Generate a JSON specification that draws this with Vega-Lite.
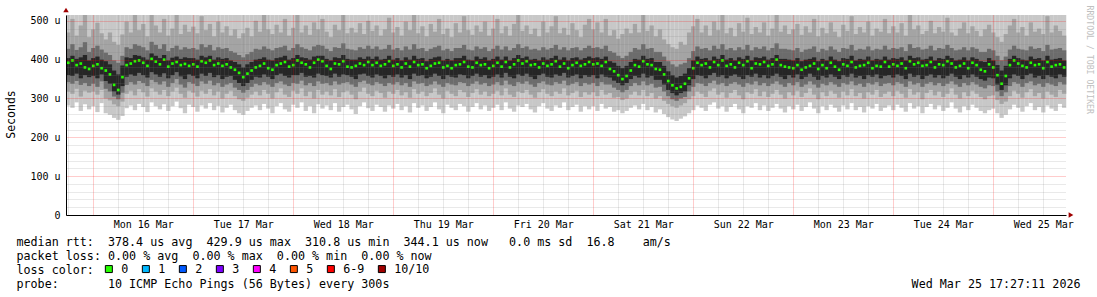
{
  "$schema": "https://vega.github.io/schema/vega-lite/v6.json",
  "width": 1000,
  "height": 200,
  "autosize": {"type": "none"},
  "padding": {"left": 66, "top": 15, "right": 31, "bottom": 82},
  "background": "white",
  "config": {
    "view": {"stroke": null},
    "font": "DejaVu Sans Mono",
    "axis": {"labelFont": "DejaVu Sans Mono", "labelFontSize": 10, "labelColor": "#000000", "titleFont": "DejaVu Sans Mono", "titleFontWeight": "normal", "titleColor": "#000000", "domainColor": "#000000", "tickColor": "#000000"}
  },
  "data": {"values": [
    {"t":"2026-03-15T18:00Z","a":282,"b":318,"c":470,"d":342,"e":428,"f":360,"g":404,"m":392},
    {"t":"2026-03-15T19:00Z","a":276,"b":312,"c":505,"d":338,"e":440,"f":358,"g":410,"m":398},
    {"t":"2026-03-15T20:00Z","a":290,"b":325,"c":462,"d":345,"e":425,"f":364,"g":402,"m":386},
    {"t":"2026-03-15T21:00Z","a":268,"b":305,"c":488,"d":335,"e":432,"f":352,"g":406,"m":390},
    {"t":"2026-03-15T22:00Z","a":285,"b":320,"c":515,"d":340,"e":445,"f":360,"g":412,"m":380},
    {"t":"2026-03-15T23:00Z","a":272,"b":315,"c":458,"d":332,"e":420,"f":355,"g":398,"m":376},
    {"t":"2026-03-16T00:00Z","a":280,"b":318,"c":478,"d":338,"e":430,"f":358,"g":404,"m":384},
    {"t":"2026-03-16T01:00Z","a":265,"b":310,"c":495,"d":330,"e":436,"f":352,"g":408,"m":388},
    {"t":"2026-03-16T02:00Z","a":288,"b":322,"c":468,"d":344,"e":426,"f":362,"g":400,"m":378},
    {"t":"2026-03-16T03:00Z","a":262,"b":300,"c":452,"d":325,"e":418,"f":345,"g":396,"m":372},
    {"t":"2026-03-16T04:00Z","a":258,"b":295,"c":470,"d":318,"e":412,"f":338,"g":388,"m":362},
    {"t":"2026-03-16T05:00Z","a":250,"b":285,"c":446,"d":305,"e":398,"f":318,"g":372,"m":335},
    {"t":"2026-03-16T06:00Z","a":245,"b":280,"c":438,"d":298,"e":392,"f":310,"g":362,"m":322},
    {"t":"2026-03-16T07:00Z","a":255,"b":292,"c":465,"d":315,"e":410,"f":332,"g":385,"m":355},
    {"t":"2026-03-16T08:00Z","a":275,"b":312,"c":498,"d":335,"e":432,"f":356,"g":406,"m":386},
    {"t":"2026-03-16T09:00Z","a":282,"b":320,"c":470,"d":342,"e":428,"f":362,"g":404,"m":390},
    {"t":"2026-03-16T10:00Z","a":270,"b":308,"c":515,"d":336,"e":440,"f":358,"g":412,"m":396},
    {"t":"2026-03-16T11:00Z","a":286,"b":324,"c":476,"d":345,"e":436,"f":366,"g":410,"m":398},
    {"t":"2026-03-16T12:00Z","a":278,"b":316,"c":492,"d":340,"e":432,"f":360,"g":406,"m":392},
    {"t":"2026-03-16T13:00Z","a":265,"b":305,"c":460,"d":332,"e":424,"f":354,"g":400,"m":384},
    {"t":"2026-03-16T14:00Z","a":290,"b":326,"c":515,"d":348,"e":446,"f":368,"g":416,"m":402},
    {"t":"2026-03-16T15:00Z","a":280,"b":318,"c":488,"d":342,"e":438,"f":362,"g":410,"m":395},
    {"t":"2026-03-16T16:00Z","a":272,"b":310,"c":470,"d":336,"e":428,"f":356,"g":404,"m":388},
    {"t":"2026-03-16T17:00Z","a":285,"b":322,"c":505,"d":344,"e":440,"f":365,"g":412,"m":400},
    {"t":"2026-03-16T18:00Z","a":268,"b":306,"c":462,"d":330,"e":422,"f":352,"g":398,"m":382},
    {"t":"2026-03-16T19:00Z","a":280,"b":318,"c":480,"d":340,"e":430,"f":360,"g":405,"m":390},
    {"t":"2026-03-16T20:00Z","a":292,"b":328,"c":515,"d":350,"e":436,"f":368,"g":408,"m":394},
    {"t":"2026-03-16T21:00Z","a":275,"b":312,"c":466,"d":336,"e":426,"f":357,"g":402,"m":386},
    {"t":"2026-03-16T22:00Z","a":262,"b":302,"c":490,"d":328,"e":432,"f":350,"g":406,"m":389},
    {"t":"2026-03-16T23:00Z","a":284,"b":320,"c":472,"d":342,"e":428,"f":362,"g":404,"m":384},
    {"t":"2026-03-17T00:00Z","a":278,"b":315,"c":485,"d":338,"e":430,"f":358,"g":404,"m":388},
    {"t":"2026-03-17T01:00Z","a":266,"b":305,"c":468,"d":332,"e":426,"f":352,"g":400,"m":382},
    {"t":"2026-03-17T02:00Z","a":282,"b":320,"c":512,"d":344,"e":440,"f":364,"g":410,"m":396},
    {"t":"2026-03-17T03:00Z","a":274,"b":312,"c":476,"d":338,"e":432,"f":358,"g":406,"m":392},
    {"t":"2026-03-17T04:00Z","a":288,"b":324,"c":492,"d":346,"e":438,"f":366,"g":410,"m":398},
    {"t":"2026-03-17T05:00Z","a":270,"b":308,"c":460,"d":334,"e":424,"f":355,"g":400,"m":386},
    {"t":"2026-03-17T06:00Z","a":281,"b":318,"c":498,"d":340,"e":432,"f":360,"g":406,"m":390},
    {"t":"2026-03-17T07:00Z","a":264,"b":300,"c":470,"d":330,"e":428,"f":350,"g":402,"m":384},
    {"t":"2026-03-17T08:00Z","a":276,"b":312,"c":486,"d":336,"e":430,"f":356,"g":404,"m":388},
    {"t":"2026-03-17T09:00Z","a":284,"b":320,"c":462,"d":340,"e":422,"f":358,"g":398,"m":380},
    {"t":"2026-03-17T10:00Z","a":270,"b":306,"c":478,"d":328,"e":418,"f":348,"g":394,"m":374},
    {"t":"2026-03-17T11:00Z","a":262,"b":298,"c":455,"d":322,"e":412,"f":340,"g":388,"m":366},
    {"t":"2026-03-17T12:00Z","a":258,"b":294,"c":468,"d":315,"e":406,"f":332,"g":380,"m":355},
    {"t":"2026-03-17T13:00Z","a":268,"b":302,"c":482,"d":322,"e":414,"f":340,"g":388,"m":364},
    {"t":"2026-03-17T14:00Z","a":276,"b":310,"c":460,"d":330,"e":420,"f":348,"g":394,"m":372},
    {"t":"2026-03-17T15:00Z","a":282,"b":318,"c":500,"d":338,"e":428,"f":356,"g":400,"m":380},
    {"t":"2026-03-17T16:00Z","a":270,"b":308,"c":472,"d":334,"e":426,"f":354,"g":402,"m":384},
    {"t":"2026-03-17T17:00Z","a":286,"b":322,"c":515,"d":342,"e":434,"f":362,"g":406,"m":390},
    {"t":"2026-03-17T18:00Z","a":274,"b":312,"c":478,"d":336,"e":428,"f":356,"g":400,"m":378},
    {"t":"2026-03-17T19:00Z","a":262,"b":300,"c":466,"d":330,"e":424,"f":350,"g":398,"m":374},
    {"t":"2026-03-17T20:00Z","a":280,"b":316,"c":490,"d":340,"e":430,"f":360,"g":404,"m":386},
    {"t":"2026-03-17T21:00Z","a":288,"b":326,"c":470,"d":344,"e":432,"f":364,"g":406,"m":390},
    {"t":"2026-03-17T22:00Z","a":272,"b":310,"c":505,"d":336,"e":436,"f":358,"g":410,"m":394},
    {"t":"2026-03-17T23:00Z","a":266,"b":304,"c":462,"d":332,"e":424,"f":354,"g":400,"m":382},
    {"t":"2026-03-18T00:00Z","a":284,"b":320,"c":482,"d":340,"e":430,"f":360,"g":404,"m":386},
    {"t":"2026-03-18T01:00Z","a":276,"b":312,"c":515,"d":338,"e":440,"f":360,"g":412,"m":398},
    {"t":"2026-03-18T02:00Z","a":290,"b":326,"c":470,"d":346,"e":432,"f":366,"g":406,"m":392},
    {"t":"2026-03-18T03:00Z","a":268,"b":306,"c":488,"d":334,"e":428,"f":356,"g":404,"m":388},
    {"t":"2026-03-18T04:00Z","a":280,"b":318,"c":464,"d":340,"e":424,"f":358,"g":400,"m":380},
    {"t":"2026-03-18T05:00Z","a":262,"b":300,"c":496,"d":332,"e":434,"f":354,"g":408,"m":392},
    {"t":"2026-03-18T06:00Z","a":285,"b":322,"c":478,"d":344,"e":438,"f":364,"g":410,"m":400},
    {"t":"2026-03-18T07:00Z","a":274,"b":310,"c":505,"d":338,"e":436,"f":360,"g":410,"m":396},
    {"t":"2026-03-18T08:00Z","a":282,"b":318,"c":472,"d":340,"e":428,"f":358,"g":402,"m":384},
    {"t":"2026-03-18T09:00Z","a":270,"b":308,"c":458,"d":334,"e":422,"f":354,"g":398,"m":376},
    {"t":"2026-03-18T10:00Z","a":288,"b":324,"c":490,"d":344,"e":432,"f":364,"g":406,"m":390},
    {"t":"2026-03-18T11:00Z","a":266,"b":304,"c":476,"d":336,"e":430,"f":356,"g":404,"m":388},
    {"t":"2026-03-18T12:00Z","a":278,"b":316,"c":515,"d":340,"e":442,"f":362,"g":412,"m":396},
    {"t":"2026-03-18T13:00Z","a":284,"b":320,"c":468,"d":342,"e":428,"f":360,"g":402,"m":382},
    {"t":"2026-03-18T14:00Z","a":272,"b":310,"c":482,"d":336,"e":426,"f":356,"g":400,"m":380},
    {"t":"2026-03-18T15:00Z","a":260,"b":298,"c":470,"d":330,"e":424,"f":350,"g":400,"m":384},
    {"t":"2026-03-18T16:00Z","a":280,"b":318,"c":494,"d":342,"e":432,"f":362,"g":406,"m":390},
    {"t":"2026-03-18T17:00Z","a":290,"b":328,"c":466,"d":346,"e":428,"f":364,"g":402,"m":386},
    {"t":"2026-03-18T18:00Z","a":275,"b":312,"c":500,"d":338,"e":436,"f":358,"g":408,"m":394},
    {"t":"2026-03-18T19:00Z","a":268,"b":306,"c":474,"d":334,"e":428,"f":354,"g":402,"m":386},
    {"t":"2026-03-18T20:00Z","a":284,"b":320,"c":488,"d":342,"e":434,"f":362,"g":408,"m":392},
    {"t":"2026-03-18T21:00Z","a":278,"b":314,"c":462,"d":338,"e":426,"f":358,"g":400,"m":384},
    {"t":"2026-03-18T22:00Z","a":266,"b":302,"c":478,"d":332,"e":428,"f":352,"g":402,"m":388},
    {"t":"2026-03-18T23:00Z","a":282,"b":318,"c":508,"d":340,"e":438,"f":360,"g":410,"m":396},
    {"t":"2026-03-19T00:00Z","a":274,"b":312,"c":470,"d":336,"e":426,"f":356,"g":400,"m":384},
    {"t":"2026-03-19T01:00Z","a":286,"b":322,"c":484,"d":342,"e":430,"f":362,"g":404,"m":388},
    {"t":"2026-03-19T02:00Z","a":270,"b":308,"c":462,"d":334,"e":424,"f":354,"g":398,"m":380},
    {"t":"2026-03-19T03:00Z","a":280,"b":316,"c":498,"d":340,"e":434,"f":360,"g":406,"m":390},
    {"t":"2026-03-19T04:00Z","a":264,"b":302,"c":476,"d":330,"e":426,"f":350,"g":400,"m":382},
    {"t":"2026-03-19T05:00Z","a":288,"b":324,"c":515,"d":344,"e":440,"f":364,"g":410,"m":394},
    {"t":"2026-03-19T06:00Z","a":276,"b":312,"c":468,"d":338,"e":428,"f":358,"g":402,"m":386},
    {"t":"2026-03-19T07:00Z","a":282,"b":318,"c":486,"d":340,"e":430,"f":360,"g":404,"m":388},
    {"t":"2026-03-19T08:00Z","a":268,"b":306,"c":460,"d":332,"e":422,"f":352,"g":396,"m":378},
    {"t":"2026-03-19T09:00Z","a":278,"b":314,"c":492,"d":336,"e":428,"f":356,"g":402,"m":384},
    {"t":"2026-03-19T10:00Z","a":290,"b":326,"c":472,"d":344,"e":432,"f":364,"g":406,"m":390},
    {"t":"2026-03-19T11:00Z","a":272,"b":310,"c":505,"d":336,"e":436,"f":358,"g":408,"m":392},
    {"t":"2026-03-19T12:00Z","a":262,"b":300,"c":466,"d":330,"e":424,"f":350,"g":398,"m":380},
    {"t":"2026-03-19T13:00Z","a":284,"b":320,"c":480,"d":340,"e":428,"f":360,"g":402,"m":384},
    {"t":"2026-03-19T14:00Z","a":276,"b":312,"c":458,"d":336,"e":422,"f":356,"g":398,"m":378},
    {"t":"2026-03-19T15:00Z","a":270,"b":306,"c":494,"d":334,"e":430,"f":354,"g":404,"m":386},
    {"t":"2026-03-19T16:00Z","a":286,"b":322,"c":470,"d":342,"e":430,"f":362,"g":404,"m":388},
    {"t":"2026-03-19T17:00Z","a":280,"b":316,"c":512,"d":340,"e":438,"f":360,"g":410,"m":394},
    {"t":"2026-03-19T18:00Z","a":266,"b":304,"c":476,"d":332,"e":426,"f":352,"g":400,"m":382},
    {"t":"2026-03-19T19:00Z","a":278,"b":314,"c":464,"d":338,"e":424,"f":358,"g":398,"m":380},
    {"t":"2026-03-19T20:00Z","a":288,"b":324,"c":488,"d":344,"e":434,"f":364,"g":408,"m":392},
    {"t":"2026-03-19T21:00Z","a":272,"b":310,"c":472,"d":336,"e":428,"f":356,"g":402,"m":386},
    {"t":"2026-03-19T22:00Z","a":282,"b":318,"c":498,"d":340,"e":432,"f":360,"g":406,"m":388},
    {"t":"2026-03-19T23:00Z","a":268,"b":306,"c":462,"d":332,"e":422,"f":352,"g":398,"m":378},
    {"t":"2026-03-20T00:00Z","a":276,"b":312,"c":480,"d":336,"e":428,"f":356,"g":402,"m":384},
    {"t":"2026-03-20T01:00Z","a":284,"b":320,"c":505,"d":342,"e":436,"f":362,"g":408,"m":392},
    {"t":"2026-03-20T02:00Z","a":270,"b":308,"c":468,"d":334,"e":426,"f":354,"g":400,"m":382},
    {"t":"2026-03-20T03:00Z","a":290,"b":326,"c":486,"d":346,"e":434,"f":366,"g":408,"m":394},
    {"t":"2026-03-20T04:00Z","a":274,"b":310,"c":462,"d":336,"e":424,"f":356,"g":398,"m":380},
    {"t":"2026-03-20T05:00Z","a":266,"b":304,"c":492,"d":332,"e":430,"f":352,"g":404,"m":388},
    {"t":"2026-03-20T06:00Z","a":282,"b":318,"c":515,"d":342,"e":440,"f":362,"g":412,"m":398},
    {"t":"2026-03-20T07:00Z","a":278,"b":314,"c":474,"d":338,"e":430,"f":358,"g":404,"m":390},
    {"t":"2026-03-20T08:00Z","a":286,"b":322,"c":488,"d":344,"e":434,"f":364,"g":408,"m":396},
    {"t":"2026-03-20T09:00Z","a":272,"b":310,"c":466,"d":336,"e":426,"f":356,"g":400,"m":386},
    {"t":"2026-03-20T10:00Z","a":264,"b":302,"c":480,"d":330,"e":428,"f":350,"g":402,"m":388},
    {"t":"2026-03-20T11:00Z","a":280,"b":316,"c":460,"d":340,"e":424,"f":360,"g":398,"m":380},
    {"t":"2026-03-20T12:00Z","a":288,"b":324,"c":498,"d":344,"e":432,"f":364,"g":406,"m":390},
    {"t":"2026-03-20T13:00Z","a":274,"b":312,"c":470,"d":336,"e":426,"f":356,"g":400,"m":384},
    {"t":"2026-03-20T14:00Z","a":268,"b":306,"c":486,"d":334,"e":430,"f":354,"g":404,"m":388},
    {"t":"2026-03-20T15:00Z","a":282,"b":318,"c":512,"d":342,"e":438,"f":362,"g":410,"m":396},
    {"t":"2026-03-20T16:00Z","a":276,"b":312,"c":468,"d":338,"e":426,"f":358,"g":400,"m":382},
    {"t":"2026-03-20T17:00Z","a":290,"b":326,"c":482,"d":346,"e":432,"f":366,"g":406,"m":390},
    {"t":"2026-03-20T18:00Z","a":270,"b":308,"c":464,"d":334,"e":424,"f":354,"g":398,"m":378},
    {"t":"2026-03-20T19:00Z","a":278,"b":314,"c":494,"d":338,"e":430,"f":358,"g":404,"m":386},
    {"t":"2026-03-20T20:00Z","a":284,"b":320,"c":476,"d":342,"e":432,"f":362,"g":406,"m":392},
    {"t":"2026-03-20T21:00Z","a":266,"b":304,"c":458,"d":332,"e":424,"f":352,"g":400,"m":384},
    {"t":"2026-03-20T22:00Z","a":280,"b":316,"c":490,"d":340,"e":430,"f":360,"g":404,"m":388},
    {"t":"2026-03-20T23:00Z","a":272,"b":310,"c":505,"d":336,"e":436,"f":356,"g":408,"m":394},
    {"t":"2026-03-21T00:00Z","a":280,"b":316,"c":478,"d":340,"e":430,"f":360,"g":404,"m":388},
    {"t":"2026-03-21T01:00Z","a":268,"b":306,"c":496,"d":332,"e":432,"f":352,"g":406,"m":390},
    {"t":"2026-03-21T02:00Z","a":286,"b":322,"c":470,"d":342,"e":428,"f":362,"g":402,"m":384},
    {"t":"2026-03-21T03:00Z","a":274,"b":310,"c":505,"d":336,"e":436,"f":356,"g":408,"m":394},
    {"t":"2026-03-21T04:00Z","a":278,"b":314,"c":462,"d":336,"e":422,"f":354,"g":396,"m":376},
    {"t":"2026-03-21T05:00Z","a":266,"b":302,"c":476,"d":328,"e":418,"f":346,"g":392,"m":370},
    {"t":"2026-03-21T06:00Z","a":270,"b":304,"c":454,"d":322,"e":410,"f":340,"g":384,"m":360},
    {"t":"2026-03-21T07:00Z","a":262,"b":296,"c":466,"d":316,"e":404,"f":334,"g":378,"m":350},
    {"t":"2026-03-21T08:00Z","a":268,"b":300,"c":480,"d":322,"e":410,"f":340,"g":384,"m":358},
    {"t":"2026-03-21T09:00Z","a":276,"b":310,"c":468,"d":332,"e":420,"f":350,"g":394,"m":372},
    {"t":"2026-03-21T10:00Z","a":282,"b":318,"c":492,"d":340,"e":430,"f":358,"g":402,"m":386},
    {"t":"2026-03-21T11:00Z","a":272,"b":308,"c":470,"d":334,"e":426,"f":354,"g":400,"m":382},
    {"t":"2026-03-21T12:00Z","a":286,"b":322,"c":515,"d":344,"e":440,"f":364,"g":410,"m":396},
    {"t":"2026-03-21T13:00Z","a":270,"b":306,"c":474,"d":334,"e":428,"f":354,"g":402,"m":388},
    {"t":"2026-03-21T14:00Z","a":278,"b":314,"c":488,"d":338,"e":430,"f":358,"g":404,"m":386},
    {"t":"2026-03-21T15:00Z","a":264,"b":300,"c":460,"d":328,"e":420,"f":348,"g":394,"m":376},
    {"t":"2026-03-21T16:00Z","a":272,"b":306,"c":478,"d":330,"e":420,"f":348,"g":394,"m":374},
    {"t":"2026-03-21T17:00Z","a":260,"b":294,"c":452,"d":318,"e":408,"f":336,"g":384,"m":362},
    {"t":"2026-03-21T18:00Z","a":252,"b":286,"c":440,"d":306,"e":396,"f":322,"g":370,"m":345},
    {"t":"2026-03-21T19:00Z","a":246,"b":280,"c":432,"d":298,"e":388,"f":314,"g":360,"m":334},
    {"t":"2026-03-21T20:00Z","a":242,"b":276,"c":428,"d":294,"e":382,"f":308,"g":354,"m":326},
    {"t":"2026-03-21T21:00Z","a":248,"b":282,"c":446,"d":300,"e":388,"f":314,"g":358,"m":330},
    {"t":"2026-03-21T22:00Z","a":254,"b":288,"c":438,"d":304,"e":392,"f":318,"g":364,"m":338},
    {"t":"2026-03-21T23:00Z","a":262,"b":298,"c":470,"d":318,"e":404,"f":334,"g":378,"m":352},
    {"t":"2026-03-22T00:00Z","a":270,"b":306,"c":486,"d":330,"e":422,"f":350,"g":398,"m":378},
    {"t":"2026-03-22T01:00Z","a":282,"b":318,"c":505,"d":340,"e":434,"f":360,"g":408,"m":392},
    {"t":"2026-03-22T02:00Z","a":276,"b":312,"c":470,"d":338,"e":428,"f":358,"g":402,"m":386},
    {"t":"2026-03-22T03:00Z","a":268,"b":304,"c":488,"d":332,"e":430,"f":352,"g":404,"m":390},
    {"t":"2026-03-22T04:00Z","a":284,"b":320,"c":462,"d":340,"e":424,"f":360,"g":398,"m":380},
    {"t":"2026-03-22T05:00Z","a":290,"b":326,"c":498,"d":346,"e":436,"f":366,"g":408,"m":394},
    {"t":"2026-03-22T06:00Z","a":274,"b":310,"c":476,"d":336,"e":428,"f":356,"g":402,"m":386},
    {"t":"2026-03-22T07:00Z","a":280,"b":316,"c":515,"d":340,"e":440,"f":360,"g":412,"m":398},
    {"t":"2026-03-22T08:00Z","a":266,"b":302,"c":468,"d":332,"e":426,"f":352,"g":400,"m":384},
    {"t":"2026-03-22T09:00Z","a":278,"b":314,"c":482,"d":338,"e":430,"f":358,"g":404,"m":388},
    {"t":"2026-03-22T10:00Z","a":286,"b":322,"c":460,"d":342,"e":424,"f":362,"g":398,"m":380},
    {"t":"2026-03-22T11:00Z","a":272,"b":308,"c":494,"d":336,"e":432,"f":356,"g":406,"m":392},
    {"t":"2026-03-22T12:00Z","a":262,"b":298,"c":472,"d":330,"e":426,"f":350,"g":402,"m":386},
    {"t":"2026-03-22T13:00Z","a":280,"b":316,"c":508,"d":340,"e":438,"f":360,"g":410,"m":396},
    {"t":"2026-03-22T14:00Z","a":276,"b":312,"c":466,"d":336,"e":424,"f":356,"g":398,"m":378},
    {"t":"2026-03-22T15:00Z","a":288,"b":324,"c":484,"d":344,"e":432,"f":364,"g":406,"m":390},
    {"t":"2026-03-22T16:00Z","a":270,"b":306,"c":470,"d":334,"e":428,"f":354,"g":404,"m":388},
    {"t":"2026-03-22T17:00Z","a":282,"b":318,"c":496,"d":340,"e":434,"f":360,"g":408,"m":394},
    {"t":"2026-03-22T18:00Z","a":268,"b":304,"c":462,"d":332,"e":424,"f":352,"g":400,"m":384},
    {"t":"2026-03-22T19:00Z","a":276,"b":312,"c":480,"d":338,"e":430,"f":358,"g":404,"m":388},
    {"t":"2026-03-22T20:00Z","a":286,"b":322,"c":515,"d":344,"e":442,"f":364,"g":412,"m":400},
    {"t":"2026-03-22T21:00Z","a":274,"b":310,"c":472,"d":336,"e":428,"f":356,"g":402,"m":386},
    {"t":"2026-03-22T22:00Z","a":264,"b":300,"c":488,"d":330,"e":428,"f":350,"g":402,"m":382},
    {"t":"2026-03-22T23:00Z","a":280,"b":316,"c":466,"d":340,"e":426,"f":360,"g":400,"m":380},
    {"t":"2026-03-23T00:00Z","a":272,"b":308,"c":478,"d":334,"e":424,"f":354,"g":398,"m":378},
    {"t":"2026-03-23T01:00Z","a":284,"b":320,"c":492,"d":342,"e":430,"f":362,"g":404,"m":386},
    {"t":"2026-03-23T02:00Z","a":268,"b":304,"c":464,"d":330,"e":420,"f":350,"g":396,"m":374},
    {"t":"2026-03-23T03:00Z","a":278,"b":314,"c":486,"d":336,"e":426,"f":356,"g":400,"m":380},
    {"t":"2026-03-23T04:00Z","a":290,"b":326,"c":470,"d":344,"e":428,"f":364,"g":402,"m":384},
    {"t":"2026-03-23T05:00Z","a":274,"b":310,"c":505,"d":336,"e":434,"f":356,"g":406,"m":390},
    {"t":"2026-03-23T06:00Z","a":262,"b":298,"c":460,"d":328,"e":420,"f":348,"g":396,"m":376},
    {"t":"2026-03-23T07:00Z","a":280,"b":316,"c":482,"d":338,"e":428,"f":358,"g":402,"m":386},
    {"t":"2026-03-23T08:00Z","a":270,"b":306,"c":468,"d":334,"e":424,"f":354,"g":398,"m":378},
    {"t":"2026-03-23T09:00Z","a":284,"b":320,"c":496,"d":342,"e":434,"f":362,"g":408,"m":392},
    {"t":"2026-03-23T10:00Z","a":276,"b":312,"c":472,"d":336,"e":426,"f":356,"g":400,"m":382},
    {"t":"2026-03-23T11:00Z","a":266,"b":302,"c":458,"d":330,"e":420,"f":350,"g":396,"m":374},
    {"t":"2026-03-23T12:00Z","a":282,"b":318,"c":490,"d":340,"e":430,"f":360,"g":404,"m":388},
    {"t":"2026-03-23T13:00Z","a":272,"b":308,"c":474,"d":336,"e":428,"f":356,"g":402,"m":384},
    {"t":"2026-03-23T14:00Z","a":288,"b":324,"c":512,"d":344,"e":438,"f":364,"g":410,"m":394},
    {"t":"2026-03-23T15:00Z","a":270,"b":306,"c":466,"d":334,"e":424,"f":354,"g":398,"m":380},
    {"t":"2026-03-23T16:00Z","a":278,"b":314,"c":484,"d":338,"e":428,"f":358,"g":402,"m":384},
    {"t":"2026-03-23T17:00Z","a":264,"b":300,"c":470,"d":330,"e":426,"f":350,"g":400,"m":386},
    {"t":"2026-03-23T18:00Z","a":280,"b":316,"c":498,"d":340,"e":434,"f":360,"g":408,"m":392},
    {"t":"2026-03-23T19:00Z","a":274,"b":310,"c":462,"d":336,"e":424,"f":356,"g":398,"m":378},
    {"t":"2026-03-23T20:00Z","a":286,"b":322,"c":480,"d":342,"e":428,"f":362,"g":402,"m":384},
    {"t":"2026-03-23T21:00Z","a":268,"b":304,"c":472,"d":332,"e":426,"f":352,"g":400,"m":382},
    {"t":"2026-03-23T22:00Z","a":276,"b":312,"c":505,"d":338,"e":436,"f":358,"g":408,"m":394},
    {"t":"2026-03-23T23:00Z","a":282,"b":318,"c":468,"d":340,"e":426,"f":360,"g":400,"m":382},
    {"t":"2026-03-24T00:00Z","a":270,"b":306,"c":486,"d":334,"e":430,"f":354,"g":404,"m":388},
    {"t":"2026-03-24T01:00Z","a":284,"b":320,"c":470,"d":342,"e":428,"f":362,"g":402,"m":384},
    {"t":"2026-03-24T02:00Z","a":276,"b":312,"c":494,"d":338,"e":432,"f":358,"g":406,"m":390},
    {"t":"2026-03-24T03:00Z","a":266,"b":302,"c":462,"d":330,"e":422,"f":350,"g":398,"m":378},
    {"t":"2026-03-24T04:00Z","a":288,"b":324,"c":515,"d":344,"e":440,"f":364,"g":410,"m":396},
    {"t":"2026-03-24T05:00Z","a":274,"b":310,"c":478,"d":336,"e":430,"f":356,"g":404,"m":388},
    {"t":"2026-03-24T06:00Z","a":280,"b":316,"c":488,"d":340,"e":432,"f":360,"g":406,"m":392},
    {"t":"2026-03-24T07:00Z","a":262,"b":298,"c":466,"d":330,"e":426,"f":350,"g":400,"m":384},
    {"t":"2026-03-24T08:00Z","a":278,"b":314,"c":474,"d":338,"e":428,"f":358,"g":402,"m":386},
    {"t":"2026-03-24T09:00Z","a":286,"b":322,"c":500,"d":342,"e":436,"f":362,"g":408,"m":394},
    {"t":"2026-03-24T10:00Z","a":272,"b":308,"c":468,"d":334,"e":424,"f":354,"g":398,"m":380},
    {"t":"2026-03-24T11:00Z","a":282,"b":318,"c":484,"d":340,"e":430,"f":360,"g":404,"m":388},
    {"t":"2026-03-24T12:00Z","a":268,"b":304,"c":472,"d":332,"e":428,"f":352,"g":402,"m":386},
    {"t":"2026-03-24T13:00Z","a":276,"b":312,"c":508,"d":338,"e":438,"f":358,"g":410,"m":396},
    {"t":"2026-03-24T14:00Z","a":290,"b":326,"c":470,"d":344,"e":430,"f":364,"g":404,"m":390},
    {"t":"2026-03-24T15:00Z","a":274,"b":310,"c":462,"d":336,"e":424,"f":356,"g":398,"m":380},
    {"t":"2026-03-24T16:00Z","a":264,"b":300,"c":480,"d":330,"e":426,"f":350,"g":400,"m":384},
    {"t":"2026-03-24T17:00Z","a":280,"b":316,"c":496,"d":340,"e":432,"f":360,"g":406,"m":390},
    {"t":"2026-03-24T18:00Z","a":270,"b":306,"c":468,"d":334,"e":424,"f":354,"g":398,"m":378},
    {"t":"2026-03-24T19:00Z","a":284,"b":320,"c":486,"d":342,"e":432,"f":362,"g":406,"m":392},
    {"t":"2026-03-24T20:00Z","a":276,"b":312,"c":474,"d":336,"e":428,"f":356,"g":402,"m":386},
    {"t":"2026-03-24T21:00Z","a":268,"b":304,"c":460,"d":330,"e":420,"f":350,"g":396,"m":374},
    {"t":"2026-03-24T22:00Z","a":262,"b":298,"c":478,"d":326,"e":420,"f":346,"g":394,"m":370},
    {"t":"2026-03-24T23:00Z","a":270,"b":306,"c":490,"d":334,"e":428,"f":354,"g":404,"m":388},
    {"t":"2026-03-25T00:00Z","a":274,"b":308,"c":470,"d":332,"e":424,"f":352,"g":398,"m":380},
    {"t":"2026-03-25T01:00Z","a":262,"b":296,"c":458,"d":318,"e":410,"f":336,"g":386,"m":360},
    {"t":"2026-03-25T02:00Z","a":250,"b":286,"c":446,"d":306,"e":398,"f":322,"g":372,"m":338},
    {"t":"2026-03-25T03:00Z","a":258,"b":292,"c":466,"d":316,"e":408,"f":334,"g":384,"m":358},
    {"t":"2026-03-25T04:00Z","a":272,"b":306,"c":488,"d":332,"e":426,"f":352,"g":402,"m":386},
    {"t":"2026-03-25T05:00Z","a":284,"b":320,"c":505,"d":342,"e":436,"f":362,"g":410,"m":398},
    {"t":"2026-03-25T06:00Z","a":276,"b":312,"c":470,"d":338,"e":428,"f":358,"g":404,"m":390},
    {"t":"2026-03-25T07:00Z","a":266,"b":302,"c":484,"d":330,"e":426,"f":350,"g":400,"m":384},
    {"t":"2026-03-25T08:00Z","a":280,"b":316,"c":462,"d":340,"e":424,"f":360,"g":398,"m":380},
    {"t":"2026-03-25T09:00Z","a":288,"b":324,"c":496,"d":344,"e":434,"f":364,"g":408,"m":392},
    {"t":"2026-03-25T10:00Z","a":270,"b":306,"c":472,"d":334,"e":428,"f":354,"g":402,"m":386},
    {"t":"2026-03-25T11:00Z","a":278,"b":314,"c":480,"d":338,"e":430,"f":358,"g":404,"m":388},
    {"t":"2026-03-25T12:00Z","a":264,"b":300,"c":466,"d":330,"e":422,"f":350,"g":398,"m":378},
    {"t":"2026-03-25T13:00Z","a":282,"b":318,"c":512,"d":340,"e":438,"f":360,"g":410,"m":394},
    {"t":"2026-03-25T14:00Z","a":274,"b":310,"c":470,"d":336,"e":426,"f":356,"g":400,"m":382},
    {"t":"2026-03-25T15:00Z","a":268,"b":304,"c":488,"d":332,"e":428,"f":352,"g":402,"m":386},
    {"t":"2026-03-25T16:00Z","a":286,"b":322,"c":474,"d":342,"e":430,"f":362,"g":404,"m":388},
    {"t":"2026-03-25T17:00Z","a":276,"b":312,"c":462,"d":336,"e":424,"f":356,"g":398,"m":380}
  ]},
  "resolve": {"axis": {"x": "independent", "y": "independent"}},
  "layer": [
    {
      "mark": {"type": "rule", "strokeWidth": 4.3, "color": "#c8c8c8"},
      "encoding": {
        "x": {"field": "t", "type": "temporal", "scale": {"type": "utc", "domain": [1773595631000, 1774459631000], "nice": false},
              "axis": {"orient": "bottom", "values": [1773597600000, 1773640800000, 1773662400000, 1773684000000, 1773727200000, 1773748800000, 1773770400000, 1773813600000, 1773835200000, 1773856800000, 1773900000000, 1773921600000, 1773943200000, 1773986400000, 1774008000000, 1774029600000, 1774072800000, 1774094400000, 1774116000000, 1774159200000, 1774180800000, 1774202400000, 1774245600000, 1774267200000, 1774288800000, 1774332000000, 1774353600000, 1774375200000, 1774418400000, 1774440000000],
                       "grid": true, "gridColor": "#808080", "gridOpacity": 0.35, "gridDash": [1, 1], "gridWidth": 1, "labels": false, "ticks": false, "domain": false, "title": null, "zindex": 1}},
        "y": {"field": "a", "type": "quantitative", "scale": {"domain": [0, 515], "nice": false, "zero": true},
              "axis": {"orient": "left", "values": [20, 40, 60, 80, 120, 140, 160, 180, 220, 240, 260, 280, 320, 340, 360, 380, 420, 440, 460, 480],
                       "grid": true, "gridColor": "#808080", "gridOpacity": 0.35, "gridDash": [1, 1], "gridWidth": 1, "labels": false, "ticks": false, "domain": false, "title": null, "zindex": 1}},
        "y2": {"datum": 515}
      }
    },
    {
      "mark": {"type": "rule", "strokeWidth": 4.3, "color": "#a4a4a4"},
      "encoding": {
        "x": {"field": "t", "type": "temporal", "scale": {"type": "utc", "domain": [1773595631000, 1774459631000], "nice": false},
              "axis": {"orient": "bottom", "values": [1773619200000, 1773705600000, 1773792000000, 1773878400000, 1773964800000, 1774051200000, 1774137600000, 1774224000000, 1774310400000, 1774396800000],
                       "grid": true, "gridColor": "#ff0000", "gridOpacity": 0.4, "gridDash": [1, 1], "gridWidth": 1, "labels": false, "ticks": false, "domain": false, "title": null, "zindex": 1}},
        "y": {"field": "b", "type": "quantitative", "scale": {"domain": [0, 515], "nice": false, "zero": true},
              "axis": {"orient": "left", "values": [0, 100, 200, 300, 400, 500], "grid": true, "gridColor": "#ff0000", "gridOpacity": 0.4, "gridDash": [1, 1], "gridWidth": 1,
                       "labelExpr": "datum.value == 0 ? '0' : datum.value + ' u'", "labelPadding": 6, "labelFontSize": 10, "ticks": false,
                       "domain": true, "domainColor": "#000000", "title": "Seconds", "titleFontSize": 11.5, "titleX": -55, "titleY": 99, "titleAngle": -90, "titleBaseline": "middle", "titleAlign": "center", "zindex": 1}},
        "y2": {"field": "c"}
      }
    },
    {
      "mark": {"type": "rule", "strokeWidth": 4.3, "color": "#6c6c6c"},
      "encoding": {
        "x": {"field": "t", "type": "temporal", "scale": {"type": "utc", "domain": [1773595631000, 1774459631000], "nice": false},
              "axis": {"orient": "bottom", "values": [1773662400000, 1773748800000, 1773835200000, 1773921600000, 1774008000000, 1774094400000, 1774180800000, 1774267200000, 1774353600000, 1774440000000],
                       "labelExpr": "utcFormat(datum.value, '%a %d %b')", "labelPadding": 4, "labelFontSize": 10, "grid": false, "ticks": false,
                       "domain": true, "domainColor": "#000000", "zindex": 2,
                       "title": ["median rtt:\u00a0\u00a0378.4 us avg\u00a0\u00a0429.9 us max\u00a0\u00a0310.8 us min\u00a0\u00a0344.1 us now\u00a0\u00a0\u00a00.0 ms sd\u00a0\u00a016.8\u00a0\u00a0\u00a0\u00a0am/s", "packet loss: 0.00 % avg\u00a0\u00a00.00 % max\u00a0\u00a00.00 % min\u00a0\u00a00.00 % now", "loss color:", "probe:\u00a0\u00a0\u00a0\u00a0\u00a0\u00a0\u00a010 ICMP Echo Pings (56 Bytes) every 300s"],
                       "titleFontSize": 11.7, "titleLineHeight": 14, "titleX": -50, "titleY": 30, "titleAlign": "left", "titleBaseline": "alphabetic", "titleAngle": 0}},
        "y": {"field": "d", "type": "quantitative", "scale": {"domain": [0, 515], "nice": false, "zero": true},
              "axis": {"orient": "right", "labels": false, "ticks": false, "domain": false, "grid": false,
                       "title": "RRDTOOL / TOBI OETIKER", "titleColor": "#c0c0c0", "titleFontSize": 8.2, "titleAngle": 90, "titleX": 22.5, "titleY": -10, "titleAlign": "left", "titleBaseline": "middle"}},
        "y2": {"field": "e"}
      }
    },
    {
      "mark": {"type": "rule", "strokeWidth": 4.3, "color": "#262626"},
      "encoding": {
        "x": {"field": "t", "type": "temporal", "scale": {"type": "utc", "domain": [1773595631000, 1774459631000], "nice": false},
              "axis": {"orient": "bottom", "labels": false, "ticks": false, "domain": false, "grid": false,
                       "title": "Wed Mar 25 17:27:11 2026", "titleFontSize": 11.7, "titleX": 1014, "titleY": 72, "titleAlign": "right", "titleBaseline": "alphabetic", "titleAngle": 0}},
        "y": {"field": "f", "type": "quantitative", "scale": {"domain": [0, 515], "nice": false, "zero": true}, "axis": null},
        "y2": {"field": "g"}
      }
    },
    {
      "mark": {"type": "square", "size": 7, "opacity": 1},
      "encoding": {
        "x": {"field": "t", "type": "temporal", "scale": {"type": "utc", "domain": [1773595631000, 1774459631000], "nice": false}, "axis": null},
        "y": {"field": "m", "type": "quantitative", "scale": {"domain": [0, 515], "nice": false, "zero": true}, "axis": null},
        "color": {"datum": "0", "type": "nominal",
                  "scale": {"domain": ["0", "1", "2", "3", "4", "5", "6-9", "10/10"], "range": ["#26ff00", "#00b8ff", "#0059ff", "#7e00ff", "#ff00ff", "#ff5500", "#ff0000", "#a10000"]},
                  "legend": {"orient": "none", "legendX": 37, "legendY": 248, "direction": "horizontal", "columns": 8, "title": null,
                             "symbolType": "square", "symbolSize": 49, "symbolStrokeColor": "#000000", "symbolStrokeWidth": 1, "symbolOpacity": 1,
                             "labelFont": "DejaVu Sans Mono", "labelFontSize": 11.7, "labelColor": "#000000", "labelOffset": 6.5, "columnPadding": 11, "padding": 0, "offset": 0}}
      }
    },
    {
      "data": {"values": [{}]},
      "mark": {"type": "point", "shape": "triangle-up", "filled": true, "size": 30, "color": "#a00000", "yOffset": -5, "opacity": 1},
      "encoding": {
        "x": {"datum": {"year": 2026, "month": 3, "date": 15, "hours": 17, "minutes": 27, "seconds": 11, "utc": true}, "type": "temporal", "scale": {"type": "utc", "domain": [1773595631000, 1774459631000], "nice": false}, "axis": null},
        "y": {"datum": 515, "type": "quantitative", "scale": {"domain": [0, 515], "nice": false, "zero": true}, "axis": null}
      }
    },
    {
      "data": {"values": [{}]},
      "mark": {"type": "point", "shape": "triangle-right", "filled": true, "size": 30, "color": "#a00000", "xOffset": 5, "opacity": 1},
      "encoding": {
        "x": {"datum": {"year": 2026, "month": 3, "date": 25, "hours": 17, "minutes": 27, "seconds": 11, "utc": true}, "type": "temporal", "scale": {"type": "utc", "domain": [1773595631000, 1774459631000], "nice": false}, "axis": null},
        "y": {"datum": 0, "type": "quantitative", "scale": {"domain": [0, 515], "nice": false, "zero": true}, "axis": null}
      }
    }
  ]
}
